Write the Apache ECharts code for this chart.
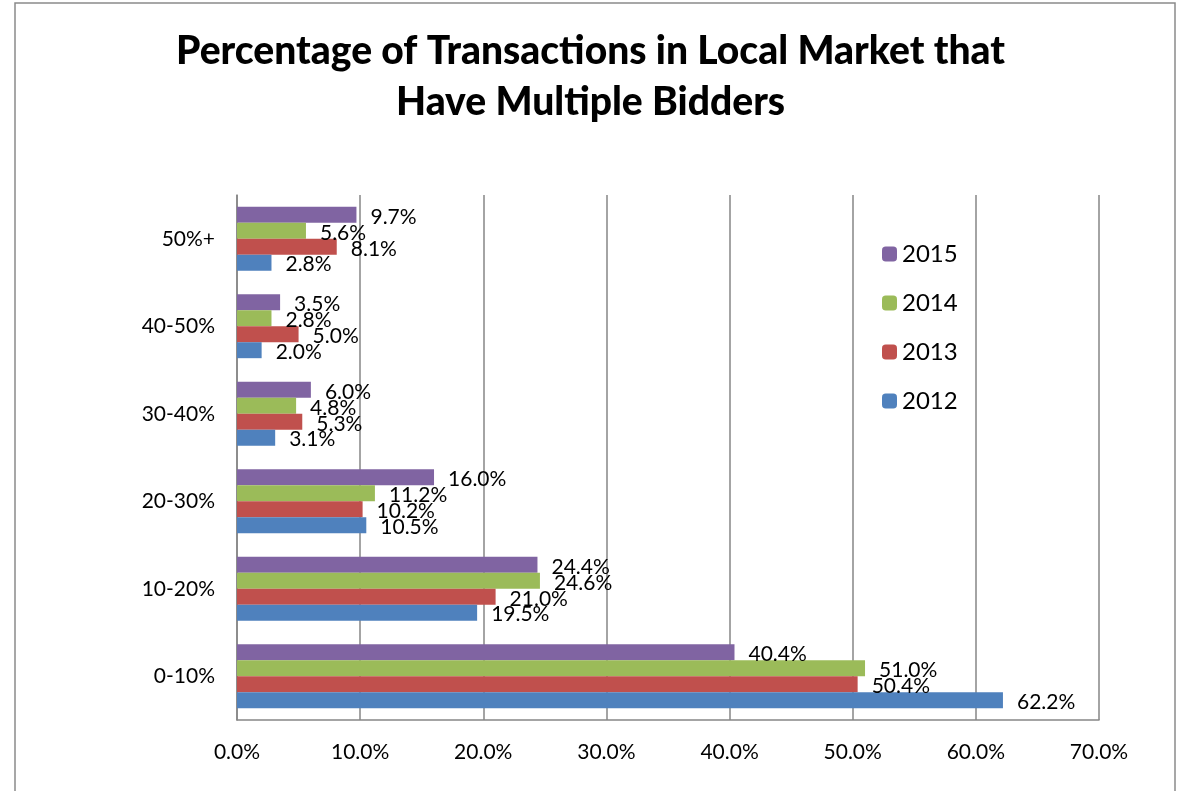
<!DOCTYPE html>
<html>
<head>
<meta charset="utf-8">
<script src="https://cdn.jsdelivr.net/npm/echarts@6/dist/echarts.min.js"></script>
<style>
  html, body { margin: 0; padding: 0; background: #fff; }
  #main { width: 1181px; height: 791px; }
</style>
</head>
<body>
<div id="main"></div>
<script>
// categories, bottom to top
var categories = ['0-10%', '10-20%', '20-30%', '30-40%', '40-50%', '50%+'];
var years = ['2012', '2013', '2014', '2015'];
var data2012 = [62.2, 19.5, 10.5, 3.1, 2.0, 2.8];
var data2013 = [50.4, 21.0, 10.2, 5.3, 5.0, 8.1];
var data2014 = [51.0, 24.6, 11.2, 4.8, 2.8, 5.6];
var data2015 = [40.4, 24.4, 16.0, 6.0, 3.5, 9.7];
var colors = ['#4F81BD', '#C0504D', '#9BBB59', '#8064A2'];

var font = 'Lato, "Open Sans", sans-serif';
var chart = echarts.init(document.getElementById('main'), null, { renderer: 'canvas' });

function makeSeries(name, values, color) {
  return {
    name: name,
    type: 'bar',
    data: values,
    barGap: '0%',
    barCategoryGap: '27%',
    itemStyle: { color: color },
    label: {
      show: true,
      position: 'right',
      distance: 14,
      offset: [0, 2],
      color: '#000',
      fontFamily: font,
      fontSize: 21,
      formatter: function (p) { return p.value.toFixed(1) + '%'; }
    }
  };
}

var option = {
  backgroundColor: '#fff',
  animation: false,
  graphic: [{
    type: 'rect',
    shape: { x: 15, y: 3, width: 1160, height: 800 },
    style: { fill: 'none', stroke: '#8a8a8a', lineWidth: 1.5 },
    silent: true
  }],
  title: {
    text: 'Percentage of Transactions in Local Market that\nHave Multiple Bidders',
    left: 'center',
    top: 21,
    textStyle: {
      fontFamily: font,
      fontWeight: 900,
      fontSize: 39,
      lineHeight: 51,
      color: '#000'
    }
  },
  legend: {
    orient: 'vertical',
    left: 877,
    top: 237,
    itemWidth: 15,
    itemHeight: 15,
    itemGap: 25,
    data: ['2015', '2014', '2013', '2012'],
    textStyle: { fontFamily: font, fontSize: 24, lineHeight: 23, color: '#000' }
  },
  grid: { left: 237, right: 82, top: 195, bottom: 71, containLabel: false },
  xAxis: {
    type: 'value',
    min: 0,
    max: 70,
    interval: 10,
    axisLine: { show: true, lineStyle: { color: '#868686', width: 1.5 } },
    axisTick: { show: false },
    splitLine: { show: true, lineStyle: { color: '#868686', width: 1.5 } },
    axisLabel: {
      margin: 22,
      color: '#000',
      fontFamily: font,
      fontSize: 21,
      formatter: function (v) { return v.toFixed(1) + '%'; }
    }
  },
  yAxis: {
    type: 'category',
    data: categories,
    axisLine: { show: true, lineStyle: { color: '#868686', width: 1.5 } },
    axisTick: { show: false },
    axisLabel: { margin: 22, color: '#000', fontFamily: font, fontSize: 21 }
  },
  // top-to-bottom inside each group: 2015, 2014, 2013, 2012
  series: [
    makeSeries(years[3], data2015, colors[3]),
    makeSeries(years[2], data2014, colors[2]),
    makeSeries(years[1], data2013, colors[1]),
    makeSeries(years[0], data2012, colors[0])
  ]
};

chart.setOption(option);
</script>
</body>
</html>
